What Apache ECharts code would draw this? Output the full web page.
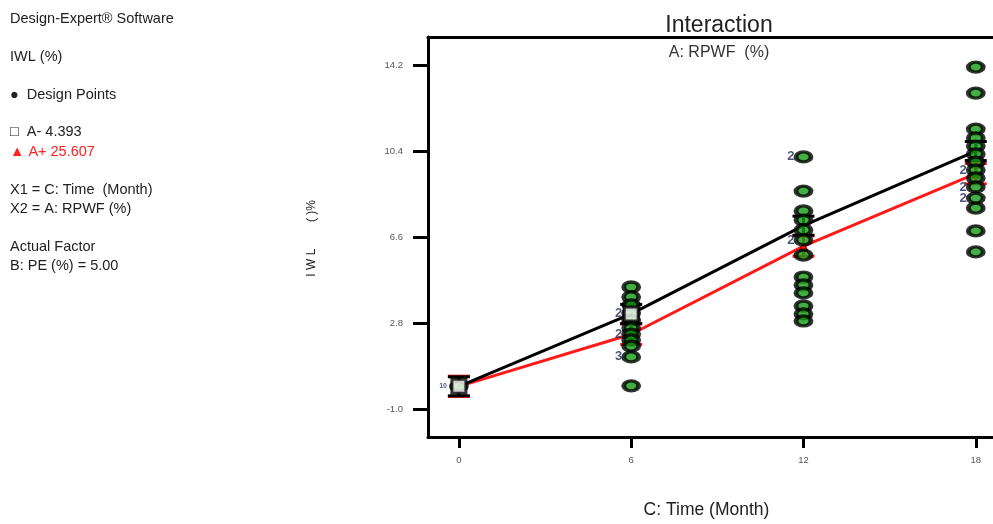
<!DOCTYPE html>
<html>
<head>
<meta charset="utf-8">
<script src="https://cdn.jsdelivr.net/npm/echarts@6/dist/echarts.min.js"></script>
<style>
  html, body { margin: 0; padding: 0; background: #fff; }
  #chart { width: 993px; height: 524px; }
</style>
</head>
<body>
<div id="chart"></div>
<script>
// months on the x axis and the tick labels
const months = [0, 6, 12, 18]
const yTicks = [-1.0, 2.8, 6.6, 10.4, 14.2]

// predicted IWL for the two RPWF levels
const lowRPWF = [0.0, 3.2, 7.1, 10.4]    // A- 4.393
const highRPWF = [0.0, 2.3, 6.2, 9.4]    // A+ 25.607
const lowLSD = [0.42, 0.42, 0.42, 0.42]
const highLSD = [0.45, 0.45, 0.45, 0.45]

// design points (time, value, how many runs sit on the same spot)
const designTime = [
  0,
  6, 6, 6, 6, 6, 6, 6, 6, 6, 6, 6,
  12, 12, 12, 12, 12, 12, 12, 12, 12, 12, 12, 12, 12,
  18, 18, 18, 18, 18, 18, 18, 18, 18, 18, 18, 18, 18, 18
]
const designIWL = [
  0.0,
  4.39, 3.95, 3.60, 3.24, 2.93, 2.58, 2.31, 2.05, 1.78, 1.30, 0.02,
  10.14, 8.63, 7.75, 7.35, 6.91, 6.47, 5.80, 4.83, 4.48, 4.13, 3.55, 3.20, 2.89,
  14.11, 12.96, 11.37, 10.98, 10.62, 10.27, 9.91, 9.56, 9.21, 8.81, 8.32, 7.88, 6.87, 5.94
]
const designCount = [
  10,
  1, 1, 1, 2, 1, 1, 2, 1, 1, 3, 1,
  2, 1, 1, 1, 1, 2, 1, 1, 1, 1, 1, 1, 1,
  1, 1, 1, 1, 1, 1, 1, 2, 1, 2, 2, 1, 1, 1
]

const legendLines = [
  { text: 'Design-Expert® Software', top: 11 },
  { text: 'IWL (%)', top: 49 },
  { text: '●  Design Points', top: 87 },
  { text: '□  A- 4.393', top: 124 },
  { text: '▲ A+ 25.607', top: 144, color: '#ff2020' },
  { text: 'X1 = C: Time  (Month)', top: 182 },
  { text: 'X2 = A: RPWF (%)', top: 201 },
  { text: 'Actual Factor', top: 239 },
  { text: 'B: PE (%) = 5.00', top: 258 }
]

const chart = echarts.init(document.getElementById('chart'))

const points = designTime.map((t, i) => ({
  value: [t, designIWL[i]],
  label: {
    show: designCount[i] > 1,
    formatter: String(designCount[i]),
    position: 'left',
    distance: designCount[i] > 9 ? 2 : -1,
    fontSize: designCount[i] > 9 ? 7 : 13,
    fontWeight: 'bold',
    color: '#1c2b5a'
  }
}))

function errorBars(values, half, color) {
  return {
    type: 'custom',
    z: 4,
    data: months.map((m, i) => [m, values[i] - half[i], values[i] + half[i]]),
    renderItem: (params, api) => {
      const lo = api.coord([api.value(0), api.value(1)])
      const hi = api.coord([api.value(0), api.value(2)])
      const w = 11
      const style = { stroke: color, lineWidth: 3 }
      return {
        type: 'group',
        children: [
          { type: 'line', shape: { x1: lo[0], y1: lo[1], x2: hi[0], y2: hi[1] }, style },
          { type: 'line', shape: { x1: lo[0] - w, y1: lo[1], x2: lo[0] + w, y2: lo[1] }, style },
          { type: 'line', shape: { x1: hi[0] - w, y1: hi[1], x2: hi[0] + w, y2: hi[1] }, style }
        ]
      }
    }
  }
}

const frameLine = { onZero: false, lineStyle: { color: '#000', width: 3 } }
const font = 'Liberation Sans, Arial, sans-serif'

chart.setOption({
  animation: false,
  backgroundColor: '#fff',
  textStyle: { fontFamily: font },
  title: [
    { text: 'Interaction', left: 714, top: 9, textAlign: 'center',
      textStyle: { fontSize: 23, fontWeight: 'normal', color: '#222' } },
    { text: 'A: RPWF  (%)', left: 714, top: 40, textAlign: 'center',
      textStyle: { fontSize: 16, fontWeight: 'normal', color: '#333' } }
  ],
  graphic: legendLines.map(l => ({
    type: 'text', left: 10, top: l.top,
    style: { text: l.text, fontSize: 14.5, fill: l.color || '#222', fontFamily: font }
  })).concat([{
    type: 'text', left: 306, top: 200, rotation: Math.PI / 2,
    style: { text: 'I W L        ( )%', fontSize: 12, fill: '#222', fontFamily: font }
  }]),
  grid: { left: 428, top: 37, right: 0, bottom: 85 },
  xAxis: [{
    type: 'value',
    min: -1.076, max: 18.6,
    name: 'C: Time (Month)',
    nameLocation: 'middle',
    nameGap: 64,
    nameTextStyle: { fontSize: 17.5, color: '#222', padding: [0, 0, 0, -8] },
    axisLine: frameLine,
    axisTick: { length: 11, lineStyle: { color: '#000', width: 3 }, customValues: months },
    axisLabel: { fontSize: 9.5, color: '#555', margin: 18, customValues: months },
    splitLine: { show: false }
  }, {
    type: 'value', position: 'top',
    min: -1.076, max: 18.6,
    axisLine: frameLine,
    axisTick: { show: false }, axisLabel: { show: false }, splitLine: { show: false }
  }],
  yAxis: {
    type: 'value',
    min: -2.24, max: 15.44,
    axisLine: frameLine,
    axisTick: { length: 15, lineStyle: { color: '#000', width: 3 }, customValues: yTicks },
    axisLabel: { fontSize: 9.5, color: '#555', margin: 25, customValues: yTicks,
      formatter: v => v.toFixed(1) },
    splitLine: { show: false }
  },
  series: [
    {
      type: 'line', z: 3,
      data: months.map((m, i) => [m, highRPWF[i]]),
      lineStyle: { color: '#ff1a1a', width: 3 },
      symbol: 'triangle', symbolSize: 10,
      itemStyle: { color: '#c00000' }
    },
    {
      type: 'line', z: 3,
      data: months.map((m, i) => [m, lowRPWF[i]]),
      lineStyle: { color: '#000', width: 3 },
      symbol: 'none'
    },
    errorBars(highRPWF, highLSD, '#ff1a1a'),
    errorBars(lowRPWF, lowLSD, '#000'),
    {
      type: 'scatter', z: 5,
      data: points,
      symbol: 'circle',
      symbolSize: [15, 10],
      itemStyle: { color: '#149a14', borderColor: '#000', borderWidth: 4 }
    },
    {
      type: 'scatter', z: 6,
      data: months.slice(0, 2).map((m, i) => [m, lowRPWF[i]]),
      symbol: 'rect',
      symbolSize: 14,
      itemStyle: { color: '#fff', borderColor: '#000', borderWidth: 3 }
    }
  ]
})
</script>
</body>
</html>
